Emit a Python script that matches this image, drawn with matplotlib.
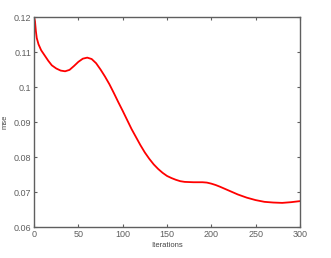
import matplotlib
matplotlib.use("Agg")
import matplotlib.pyplot as plt

# values
iterations = [0, 1, 2, 3, 5, 8, 12, 16, 20, 25, 30, 35, 40, 45, 50, 55, 60, 65,
              70, 75, 80, 85, 90, 95, 100, 105, 110, 115, 120, 125, 130, 135,
              140, 145, 150, 155, 160, 165, 170, 180, 190, 195, 200, 205, 210,
              220, 230, 240, 250, 260, 270, 280, 290, 300]
mse = [0.1200, 0.1188, 0.1160, 0.1140, 0.1122, 0.1105, 0.1090, 0.1075, 0.1062,
       0.1053, 0.1047, 0.1045, 0.1049, 0.1060, 0.1072, 0.1081, 0.1084, 0.1080,
       0.1068, 0.1050, 0.1030, 0.1008, 0.0983, 0.0957, 0.0932, 0.0906, 0.0880,
       0.0857, 0.0834, 0.0813, 0.0795, 0.0779, 0.0766, 0.0755, 0.0746, 0.0740,
       0.0735, 0.0731, 0.0729, 0.0728, 0.0728, 0.0727, 0.0724, 0.0720, 0.0715,
       0.0704, 0.0693, 0.0684, 0.0677, 0.0672, 0.0670, 0.0669, 0.0671, 0.0674]

x_ticks = [0, 50, 100, 150, 200, 250, 300]
y_ticks = [0.06, 0.07, 0.08, 0.09, 0.1, 0.11, 0.12]
y_labels = ["0.06", "0.07", "0.08", "0.09", "0.1", "0.11", "0.12"]

axis_gray = "#5f5f5f"
plt.rcParams["font.family"] = ["Liberation Sans", "DejaVu Sans"]

fig = plt.figure(figsize=(3.31, 2.58), dpi=100)
ax = fig.add_axes([0.103, 0.12, 0.803, 0.814])

ax.plot(iterations, mse, color="#ff0000", linewidth=1.3)

ax.set_xlim(0, 300)
ax.set_ylim(0.06, 0.12)
ax.set_xticks(x_ticks)
ax.set_yticks(y_ticks)
ax.set_yticklabels(y_labels)
ax.tick_params(direction="in", length=2.5, width=0.8, colors=axis_gray,
               labelsize=6.5, top=True, right=True, pad=2)
for s in ax.spines.values():
    s.set_color(axis_gray)
    s.set_linewidth(1.0)

ax.set_xlabel("Iterations", fontsize=5.5, color="#444444", labelpad=2)
ax.set_ylabel("mse", fontsize=5.5, color="#444444", labelpad=4)

fig.savefig("out.png", dpi=100, facecolor="white")
